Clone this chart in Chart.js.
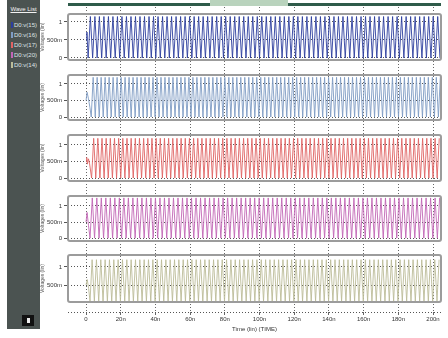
<!DOCTYPE html>
<html lang="en">
<head>
    <meta charset="UTF-8">
    <title>Wave List - transient</title>
    <script src="https://cdn.jsdelivr.net/npm/chart.js@4.4.0/dist/chart.umd.min.js"></script>
    <style>
        body {
            margin: 0;
            width: 448px;
            height: 338px;
            background: #fff;
            overflow: hidden;
            position: relative;
            font-family: 'Liberation Sans Narrow', 'Liberation Sans', sans-serif;
        }
        canvas { position: absolute; }
        #side {
            position: absolute;
            left: 7px; top: 0; width: 33px; height: 329px;
            background: #4b5351;
        }
        #side .hdr {
            position: absolute; left: 0; top: 4px; width: 33px; height: 10px;
            color: #f2f2f2; font-size: 6px; text-align: center; line-height: 10px;
            text-decoration: underline;
        }
        #side .item {
            position: absolute; left: 4px; height: 8px; line-height: 8px;
            color: #dfe4e6; font-size: 6px; white-space: nowrap;
        }
        #side .sw {
            display: inline-block; width: 2px; height: 6px; margin-right: 1px; vertical-align: -1px;
        }
        #side .icon {
            position: absolute; left: 15px; top: 315px; width: 12px; height: 11px; background: #111;
        }
        #side .icon i {
            position: absolute; left: 5px; top: 3px; width: 3px; height: 5px; background: #eee;
        }
        #topbar { position: absolute; left: 68px; top: 3px; width: 373px; height: 3px; background: #2f5b4a; }
        #toptitle { position: absolute; left: 210px; top: 0; width: 78px; height: 6px; background: #b9d3bd; }
    </style>
</head>
<body>
    <div id="side"><div class="hdr">Wave List</div><div class="icon"><i></i></div></div>
    <div id="topbar"></div>
    <div id="toptitle"></div>
    <script>
        // ---- data ----
        const timeTicks = [0, 20, 40, 60, 80, 100, 120, 140, 160, 180, 200];
        const timeLabels = ['0', '20n', '40n', '60n', '80n', '100n', '120n', '140n', '160n', '180n', '200n'];
        const voltTicks = [0, 0.5, 1];
        const voltLabels = ['0', '500m', '1'];
        const waveNames = ['D0:v(15)', 'D0:v(16)', 'D0:v(17)', 'D0:v(20)', 'D0:v(14)'];

        // start-up glitch near t=0 (ns, V)
        const v15StartT = [0, 0.5, 0.9];
        const v15StartV = [0.5, 0.72, 0.3];
        const v16StartT = [0, 0.6, 1.4, 2.2];
        const v16StartV = [0.5, 0.75, 0.55, 0.3];
        const v17StartT = [0, 0.4, 0.8, 1.4, 2.0];
        const v17StartV = [0.5, 0.62, 0.42, 0.58, 0.45];
        const v20StartT = [0, 0.6, 1.4];
        const v20StartV = [0.5, 0.8, 0.4];
        const v14StartT = [0, 0.7, 1.5];
        const v14StartV = [0.5, 0.65, 0.4];

        // times (ns) of successive troughs / peaks, trough first
        const v15Swing = [1.2, 2.5, 3.8, 5.1, 6.4, 7.7, 9.0, 10.3, 11.6, 12.9, 14.2, 15.5, 16.8, 18.1, 19.4, 20.7, 22.0, 23.3, 24.6, 25.9, 27.2, 28.5, 29.8, 31.1, 32.4, 33.7, 35.0, 36.3, 37.6, 38.9, 40.2, 41.5, 42.8, 44.1, 45.4, 46.7, 48.0, 49.3, 50.6, 51.9, 53.2, 54.5, 55.8, 57.1, 58.4, 59.7, 61.0, 62.3, 63.6, 64.9, 66.2, 67.5, 68.8, 70.1, 71.4, 72.7, 74.0, 75.3, 76.6, 77.9, 79.2, 80.5, 81.8, 83.1, 84.4, 85.7, 87.0, 88.3, 89.6, 90.9, 92.2, 93.5, 94.8, 96.1, 97.4, 98.7, 100.0, 101.3, 102.6, 103.9, 105.2, 106.5, 107.8, 109.1, 110.4, 111.7, 113.0, 114.3, 115.6, 116.9, 118.2, 119.5, 120.8, 122.1, 123.4, 124.7, 126.0, 127.3, 128.6, 129.9, 131.2, 132.5, 133.8, 135.1, 136.4, 137.7, 139.0, 140.3, 141.6, 142.9, 144.2, 145.5, 146.8, 148.1, 149.4, 150.7, 152.0, 153.3, 154.6, 155.9, 157.2, 158.5, 159.8, 161.1, 162.4, 163.7, 165.0, 166.3, 167.6, 168.9, 170.2, 171.5, 172.8, 174.1, 175.4, 176.7, 178.0, 179.3, 180.6, 181.9, 183.2, 184.5, 185.8, 187.1, 188.4, 189.7, 191.0, 192.3, 193.6, 194.9, 196.2, 197.5, 198.8, 200.1, 201.4, 202.7, 204.0];
        const v16Swing = [3.0, 4.1, 5.3, 6.4, 7.6, 8.7, 9.9, 11.0, 12.2, 13.3, 14.5, 15.6, 16.8, 17.9, 19.1, 20.2, 21.4, 22.5, 23.7, 24.8, 26.0, 27.1, 28.3, 29.4, 30.6, 31.7, 32.9, 34.0, 35.2, 36.3, 37.5, 38.6, 39.8, 40.9, 42.1, 43.2, 44.4, 45.5, 46.7, 47.8, 49.0, 50.1, 51.3, 52.4, 53.6, 54.7, 55.9, 57.0, 58.2, 59.3, 60.5, 61.6, 62.8, 63.9, 65.1, 66.2, 67.4, 68.5, 69.7, 70.8, 72.0, 73.1, 74.3, 75.4, 76.6, 77.7, 78.9, 80.0, 81.2, 82.3, 83.5, 84.6, 85.8, 86.9, 88.1, 89.2, 90.4, 91.5, 92.7, 93.8, 95.0, 96.1, 97.3, 98.4, 99.6, 100.7, 101.9, 103.0, 104.2, 105.3, 106.5, 107.6, 108.8, 109.9, 111.1, 112.2, 113.4, 114.5, 115.7, 116.8, 118.0, 119.1, 120.3, 121.4, 122.6, 123.7, 124.9, 126.0, 127.2, 128.3, 129.5, 130.6, 131.8, 132.9, 134.1, 135.2, 136.4, 137.5, 138.7, 139.8, 141.0, 142.1, 143.3, 144.4, 145.6, 146.7, 147.9, 149.0, 150.2, 151.3, 152.5, 153.6, 154.8, 155.9, 157.1, 158.2, 159.4, 160.5, 161.7, 162.8, 164.0, 165.1, 166.3, 167.4, 168.6, 169.7, 170.9, 172.0, 173.2, 174.3, 175.5, 176.6, 177.8, 178.9, 180.1, 181.2, 182.4, 183.5, 184.7, 185.8, 187.0, 188.1, 189.3, 190.4, 191.6, 192.7, 193.9, 195.0, 196.2, 197.3, 198.5, 199.6, 200.8, 201.9, 203.1, 204.2];
        const v17Swing = [3.2, 4.4, 5.6, 6.8, 8.0, 9.2, 10.4, 11.6, 12.8, 14.0, 15.2, 16.4, 17.6, 18.8, 20.0, 21.2, 22.4, 23.6, 24.8, 26.0, 27.2, 28.4, 29.6, 30.8, 32.0, 33.2, 34.4, 35.6, 36.8, 38.0, 39.2, 40.4, 41.6, 42.8, 44.0, 45.2, 46.4, 47.6, 48.8, 50.0, 51.2, 52.4, 53.6, 54.8, 56.0, 57.2, 58.4, 59.6, 60.8, 62.0, 63.2, 64.4, 65.6, 66.8, 68.0, 69.2, 70.4, 71.6, 72.8, 74.0, 75.2, 76.4, 77.6, 78.8, 80.0, 81.2, 82.4, 83.6, 84.8, 86.0, 87.2, 88.4, 89.6, 90.8, 92.0, 93.2, 94.4, 95.6, 96.8, 98.0, 99.2, 100.4, 101.6, 102.8, 104.0, 105.2, 106.4, 107.6, 108.8, 110.0, 111.2, 112.4, 113.6, 114.8, 116.0, 117.2, 118.4, 119.6, 120.8, 122.0, 123.2, 124.4, 125.6, 126.8, 128.0, 129.2, 130.4, 131.6, 132.8, 134.0, 135.2, 136.4, 137.6, 138.8, 140.0, 141.2, 142.4, 143.6, 144.8, 146.0, 147.2, 148.4, 149.6, 150.8, 152.0, 153.2, 154.4, 155.6, 156.8, 158.0, 159.2, 160.4, 161.6, 162.8, 164.0, 165.2, 166.4, 167.6, 168.8, 170.0, 171.2, 172.4, 173.6, 174.8, 176.0, 177.2, 178.4, 179.6, 180.8, 182.0, 183.2, 184.4, 185.6, 186.8, 188.0, 189.2, 190.4, 191.6, 192.8, 194.0, 195.2, 196.4, 197.6, 198.8, 200.0, 201.2, 202.4, 203.6];
        const v20Swing = [2.3, 3.6, 4.9, 6.2, 7.5, 8.8, 10.1, 11.4, 12.7, 14.0, 15.3, 16.6, 17.9, 19.2, 20.5, 21.8, 23.1, 24.4, 25.7, 27.0, 28.3, 29.6, 30.9, 32.2, 33.5, 34.8, 36.1, 37.4, 38.7, 40.0, 41.3, 42.6, 43.9, 45.2, 46.5, 47.8, 49.1, 50.4, 51.7, 53.0, 54.3, 55.6, 56.9, 58.2, 59.5, 60.8, 62.1, 63.4, 64.7, 66.0, 67.3, 68.6, 69.9, 71.2, 72.5, 73.8, 75.1, 76.4, 77.7, 79.0, 80.3, 81.6, 82.9, 84.2, 85.5, 86.8, 88.1, 89.4, 90.7, 92.0, 93.3, 94.6, 95.9, 97.2, 98.5, 99.8, 101.1, 102.4, 103.7, 105.0, 106.3, 107.6, 108.9, 110.2, 111.5, 112.8, 114.1, 115.4, 116.7, 118.0, 119.3, 120.6, 121.9, 123.2, 124.5, 125.8, 127.1, 128.4, 129.7, 131.0, 132.3, 133.6, 134.9, 136.2, 137.5, 138.8, 140.1, 141.4, 142.7, 144.0, 145.3, 146.6, 147.9, 149.2, 150.5, 151.8, 153.1, 154.4, 155.7, 157.0, 158.3, 159.6, 160.9, 162.2, 163.5, 164.8, 166.1, 167.4, 168.7, 170.0, 171.3, 172.6, 173.9, 175.2, 176.5, 177.8, 179.1, 180.4, 181.7, 183.0, 184.3, 185.6, 186.9, 188.2, 189.5, 190.8, 192.1, 193.4, 194.7, 196.0, 197.3, 198.6, 199.9, 201.2, 202.5, 203.8];
        const v14Swing = [2.3, 3.5, 4.8, 6.0, 7.3, 8.5, 9.8, 11.0, 12.3, 13.5, 14.8, 16.0, 17.3, 18.5, 19.8, 21.0, 22.3, 23.5, 24.8, 26.0, 27.3, 28.5, 29.8, 31.0, 32.3, 33.5, 34.8, 36.0, 37.3, 38.5, 39.8, 41.0, 42.3, 43.5, 44.8, 46.0, 47.3, 48.5, 49.8, 51.0, 52.3, 53.5, 54.8, 56.0, 57.3, 58.5, 59.8, 61.0, 62.3, 63.5, 64.8, 66.0, 67.3, 68.5, 69.8, 71.0, 72.3, 73.5, 74.8, 76.0, 77.3, 78.5, 79.8, 81.0, 82.3, 83.5, 84.8, 86.0, 87.3, 88.5, 89.8, 91.0, 92.3, 93.5, 94.8, 96.0, 97.3, 98.5, 99.8, 101.0, 102.3, 103.5, 104.8, 106.0, 107.3, 108.5, 109.8, 111.0, 112.3, 113.5, 114.8, 116.0, 117.3, 118.5, 119.8, 121.0, 122.3, 123.5, 124.8, 126.0, 127.3, 128.5, 129.8, 131.0, 132.3, 133.5, 134.8, 136.0, 137.3, 138.5, 139.8, 141.0, 142.3, 143.5, 144.8, 146.0, 147.3, 148.5, 149.8, 151.0, 152.3, 153.5, 154.8, 156.0, 157.3, 158.5, 159.8, 161.0, 162.3, 163.5, 164.8, 166.0, 167.3, 168.5, 169.8, 171.0, 172.3, 173.5, 174.8, 176.0, 177.3, 178.5, 179.8, 181.0, 182.3, 183.5, 184.8, 186.0, 187.3, 188.5, 189.8, 191.0, 192.3, 193.5, 194.8, 196.0, 197.3, 198.5, 199.8, 201.0, 202.3, 203.5];

        // trough / peak levels (V)
        const lowLevels = [0.0, 0.0, 0.0, 0.0, 0.05];
        const highLevels = [1.15, 1.2, 1.2, 1.25, 1.2];

        // ---- styling / layout ----
        const waveColors = ['#2c3e9e', '#7f9cc4', '#e06464', '#c266b6', '#bcbc98'];
        const FONT = "'Liberation Sans Narrow', 'Liberation Sans', sans-serif";
        const xMin = -10.4, xMax = 204.6;
        const panels = [
            { top: 14, bottom: 60, min: -0.056, max: 1.22, ticks: [0, 0.5, 1] },
            { top: 75, bottom: 120, min: -0.09, max: 1.27, ticks: [0, 0.5, 1] },
            { top: 135, bottom: 181, min: -0.09, max: 1.30, ticks: [0, 0.5, 1] },
            { top: 196, bottom: 241, min: -0.09, max: 1.31, ticks: [0, 0.5, 1] },
            { top: 255, bottom: 302, min: 0.03, max: 1.33, ticks: [0.5, 1] }
        ];
        const startT = [v15StartT, v16StartT, v17StartT, v20StartT, v14StartT];
        const startV = [v15StartV, v16StartV, v17StartV, v20StartV, v14StartV];
        const swings = [v15Swing, v16Swing, v17Swing, v20Swing, v14Swing];

        // wave list in the side panel
        const side = document.getElementById('side');
        waveNames.forEach((name, i) => {
            const d = document.createElement('div');
            d.className = 'item';
            d.style.top = (21 + i * 10) + 'px';
            d.innerHTML = '<span class="sw" style="background:' + waveColors[i] + '"></span>' + name;
            side.appendChild(d);
        });

        function makeCanvas(left, top, w, h) {
            const c = document.createElement('canvas');
            c.width = w; c.height = h;
            c.style.left = left + 'px'; c.style.top = top + 'px';
            c.style.width = w + 'px'; c.style.height = h + 'px';
            document.body.appendChild(c);
            return c;
        }

        // background chart: time axis + vertical dotted grid
        const axisLine = {
            id: 'axisLine',
            afterDraw(chart) {
                const { ctx, chartArea } = chart;
                ctx.save();
                ctx.strokeStyle = '#555';
                ctx.lineWidth = 1;
                ctx.setLineDash([1, 2]);
                ctx.beginPath();
                ctx.moveTo(chartArea.left, chartArea.bottom + 0.5);
                ctx.lineTo(chartArea.right, chartArea.bottom + 0.5);
                ctx.stroke();
                ctx.restore();
            }
        };
        new Chart(makeCanvas(40, 0, 408, 338), {
            type: 'line',
            data: { datasets: [{ data: [] }] },
            options: {
                animation: false, responsive: false,
                layout: { padding: { left: 28, right: 7, top: 7, bottom: 0 } },
                plugins: { legend: { display: false }, tooltip: { enabled: false } },
                scales: {
                    x: {
                        type: 'linear', min: xMin, max: xMax,
                        afterBuildTicks: s => { s.ticks = timeTicks.map(v => ({ value: v })); },
                        afterFit: s => { s.height = 26; s.paddingLeft = 0; s.paddingRight = 0; },
                        ticks: {
                            callback: v => timeLabels[timeTicks.indexOf(v)],
                            font: { size: 6, family: FONT }, color: '#333',
                            padding: 1, maxRotation: 0, autoSkip: false
                        },
                        grid: { color: '#666', tickLength: 3, lineWidth: 1 },
                        border: { display: false, dash: [1, 2] },
                        title: {
                            display: true, text: 'Time (lin) (TIME)', color: '#333',
                            font: { size: 6, family: FONT }, padding: { top: 0, bottom: 5 }
                        }
                    },
                    y: { display: false, min: 0, max: 1 }
                }
            },
            plugins: [axisLine]
        });

        // the five wave panels
        const framePlugin = {
            id: 'frame',
            afterDraw(chart) {
                const { ctx, chartArea: a } = chart;
                ctx.save();
                ctx.strokeStyle = '#9c9c9c';
                ctx.lineWidth = 2;
                ctx.beginPath();
                ctx.roundRect(a.left, a.top, a.right - a.left, a.bottom - a.top, 2);
                ctx.stroke();
                ctx.restore();
            }
        };

        panels.forEach((p, i) => {
            const pts = startT[i].map((t, k) => ({ x: t, y: startV[i][k] }))
                .concat(swings[i].map((t, k) => ({ x: t, y: k % 2 === 0 ? lowLevels[i] : highLevels[i] })));
            new Chart(makeCanvas(40, p.top - 2, 408, p.bottom - p.top + 4), {
                type: 'line',
                data: {
                    datasets: [{
                        label: waveNames[i], data: pts, borderColor: waveColors[i],
                        borderWidth: 0.9, pointRadius: 0, tension: 0, fill: false
                    }]
                },
                options: {
                    animation: false, responsive: false,
                    layout: { padding: { left: 0, right: 7, top: 2, bottom: 2 } },
                    plugins: { legend: { display: false }, tooltip: { enabled: false } },
                    scales: {
                        x: { type: 'linear', min: xMin, max: xMax, display: false },
                        y: {
                            min: p.min, max: p.max,
                            afterBuildTicks: s => { s.ticks = p.ticks.map(v => ({ value: v })); },
                            afterFit: s => { s.width = 28; s.paddingTop = 0; s.paddingBottom = 0; },
                            ticks: {
                                callback: v => voltLabels[voltTicks.indexOf(v)],
                                font: { size: 6, family: FONT }, color: '#333', padding: 2
                            },
                            grid: { color: '#555', tickLength: 4, lineWidth: 1 },
                            border: { display: false, dash: [1, 2] },
                            title: {
                                display: true, text: 'Voltages (lin)', color: '#555',
                                font: { size: 5, family: FONT }, padding: 0
                            }
                        }
                    }
                },
                plugins: [framePlugin]
            });
        });
    </script>
</body>
</html>
